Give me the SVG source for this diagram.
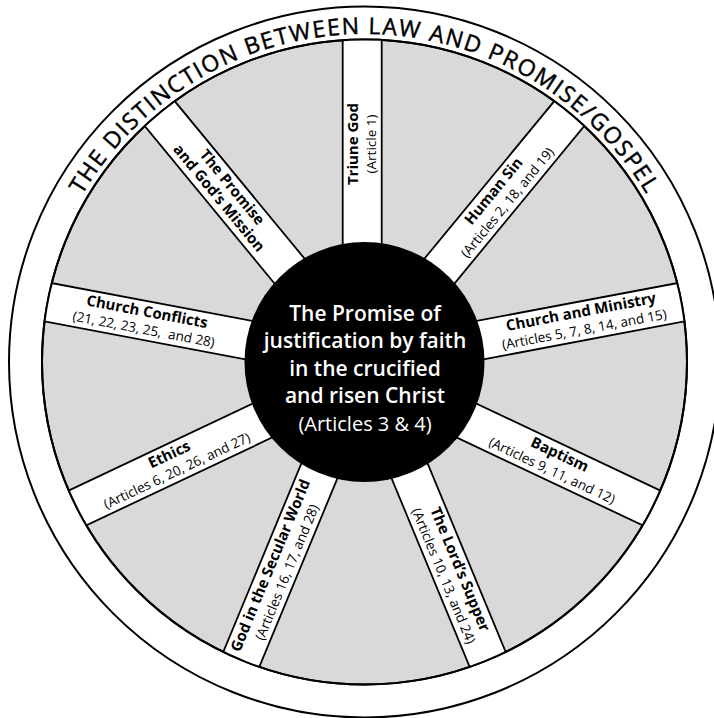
<svg xmlns="http://www.w3.org/2000/svg" width="714" height="718" viewBox="0 0 714 718">
<defs>
<style>
.outer{fill:none;stroke:#000;stroke-width:2}
.disk{fill:#d9d9d9;stroke:#000;stroke-width:2}
.disk-line{fill:none;stroke:#000;stroke-width:2}
.spoke{fill:#fff;stroke:#000;stroke-width:1.8}
.hub{fill:#000}
text{font-family:"Open Sans","Liberation Sans",sans-serif;fill:#000}
.lb{font-weight:700;font-size:15px;text-anchor:middle}
.la{font-weight:400;font-size:13.5px;text-anchor:middle}
.ct{fill:#fff;font-size:21px;font-weight:600;text-anchor:middle}
.ca{fill:#fff;font-size:20px;font-weight:400;text-anchor:middle}
.arc{font-size:23px;font-weight:400;letter-spacing:1.6px;stroke:#000;stroke-width:0.45px}
</style>
<clipPath id="inside"><circle cx="364.5" cy="362" r="322.5"/></clipPath>
<path id="arcPath" d="M 36.5 362 A 328 328 0 0 1 692.5 362"/>
</defs>

<g id="wheel">
<circle class="outer" cx="364.5" cy="362" r="355.5"/>
<circle class="disk" cx="364.5" cy="362" r="322.5"/>
</g>

<g id="title">
<text class="arc"><textPath href="#arcPath" startOffset="50%" text-anchor="middle">THE DISTINCTION BETWEEN LAW AND PROMISE/GOSPEL</textPath></text>
</g>

<g id="connectors" clip-path="url(#inside)">
<rect class="spoke" transform="translate(364.5 362) rotate(-90) translate(0 -2.3)" x="0" y="-19.5" width="345" height="39"/>
<rect class="spoke" transform="translate(364.5 362) rotate(-50.5)" x="0" y="-19.5" width="345" height="39"/>
<rect class="spoke" transform="translate(364.5 362) rotate(-10.7)" x="0" y="-19.5" width="345" height="39"/>
<rect class="spoke" transform="translate(364.5 362) rotate(25.3) translate(0 9.3)" x="0" y="-19.5" width="345" height="39"/>
<rect class="spoke" transform="translate(364.5 362) rotate(67.5)" x="0" y="-19.5" width="345" height="39"/>
<rect class="spoke" transform="translate(364.5 362) rotate(112.5)" x="0" y="-19.5" width="345" height="39"/>
<rect class="spoke" transform="translate(364.5 362) rotate(154.7) translate(0 -9.3)" x="0" y="-19.5" width="345" height="39"/>
<rect class="spoke" transform="translate(364.5 362) rotate(-169.3)" x="0" y="-19.5" width="345" height="39"/>
<rect class="spoke" transform="translate(364.5 362) rotate(-129.5)" x="0" y="-19.5" width="345" height="39"/>
</g>
<circle class="disk-line" cx="364.5" cy="362" r="322.5"/>

<g id="triune-god" transform="translate(364.5 362) rotate(-90) translate(218 -2.3)">
<text class="lb" x="0" y="-4">Triune God</text>
<text class="la" x="0" y="13.5">(Article 1)</text>
</g>
<g id="human-sin" transform="translate(364.5 362) rotate(-50.5) translate(214 0)">
<text class="lb" x="0" y="-4">Human Sin</text>
<text class="la" x="0" y="13.5">(Articles 2, 18, and 19)</text>
</g>
<g id="church-ministry" transform="translate(364.5 362) rotate(-10.7) translate(222 0)">
<text class="lb" x="0" y="-4">Church and Ministry</text>
<text class="la" x="0" y="13.5">(Articles 5, 7, 8, 14, and 15)</text>
</g>
<g id="baptism" transform="translate(364.5 362) rotate(25.3) translate(216 9.3)">
<text class="lb" x="0" y="-4">Baptism</text>
<text class="la" x="0" y="13.5">(Articles 9, 11, and 12)</text>
</g>
<g id="lords-supper" transform="translate(364.5 362) rotate(67.5) translate(228 0)">
<text class="lb" x="0" y="-4">The Lord’s Supper</text>
<text class="la" x="0" y="13.5">(Articles 10, 13, and 24)</text>
</g>
<g id="god-secular-world" transform="translate(364.5 362) rotate(112.5) translate(224 0) rotate(180)">
<text class="lb" x="0" y="-4">God in the Secular World</text>
<text class="la" x="0" y="13.5">(Articles 16, 17, and 28)</text>
</g>
<g id="ethics" transform="translate(364.5 362) rotate(154.7) translate(216 -9.3) rotate(180)">
<text class="lb" x="0" y="-4">Ethics</text>
<text class="la" x="0" y="13.5">(Articles 6, 20, 26, and 27)</text>
</g>
<g id="church-conflicts" transform="translate(364.5 362) rotate(-169.3) translate(223 0) rotate(180)">
<text class="lb" x="0" y="-4">Church Conflicts</text>
<text class="la" x="0" y="13.5" xml:space="preserve">(21, 22, 23, 25,  and 28)</text>
</g>
<g id="promise-mission" transform="translate(364.5 362) rotate(-129.5) translate(219 0) rotate(180)">
<text class="lb" x="0" y="-4">The Promise</text>
<text class="lb" x="0" y="13">and God’s Mission</text>
</g>

<g id="hub">
<circle class="hub" cx="364.5" cy="362" r="120"/>
<text class="ct" x="365" y="320.5">The Promise of</text>
<text class="ct" x="365" y="348">justification by faith</text>
<text class="ct" x="365" y="375.5">in the crucified</text>
<text class="ct" x="365" y="403">and risen Christ</text>
<text class="ca" x="365" y="430.5">(Articles 3 &amp; 4)</text>
</g>
</svg>
